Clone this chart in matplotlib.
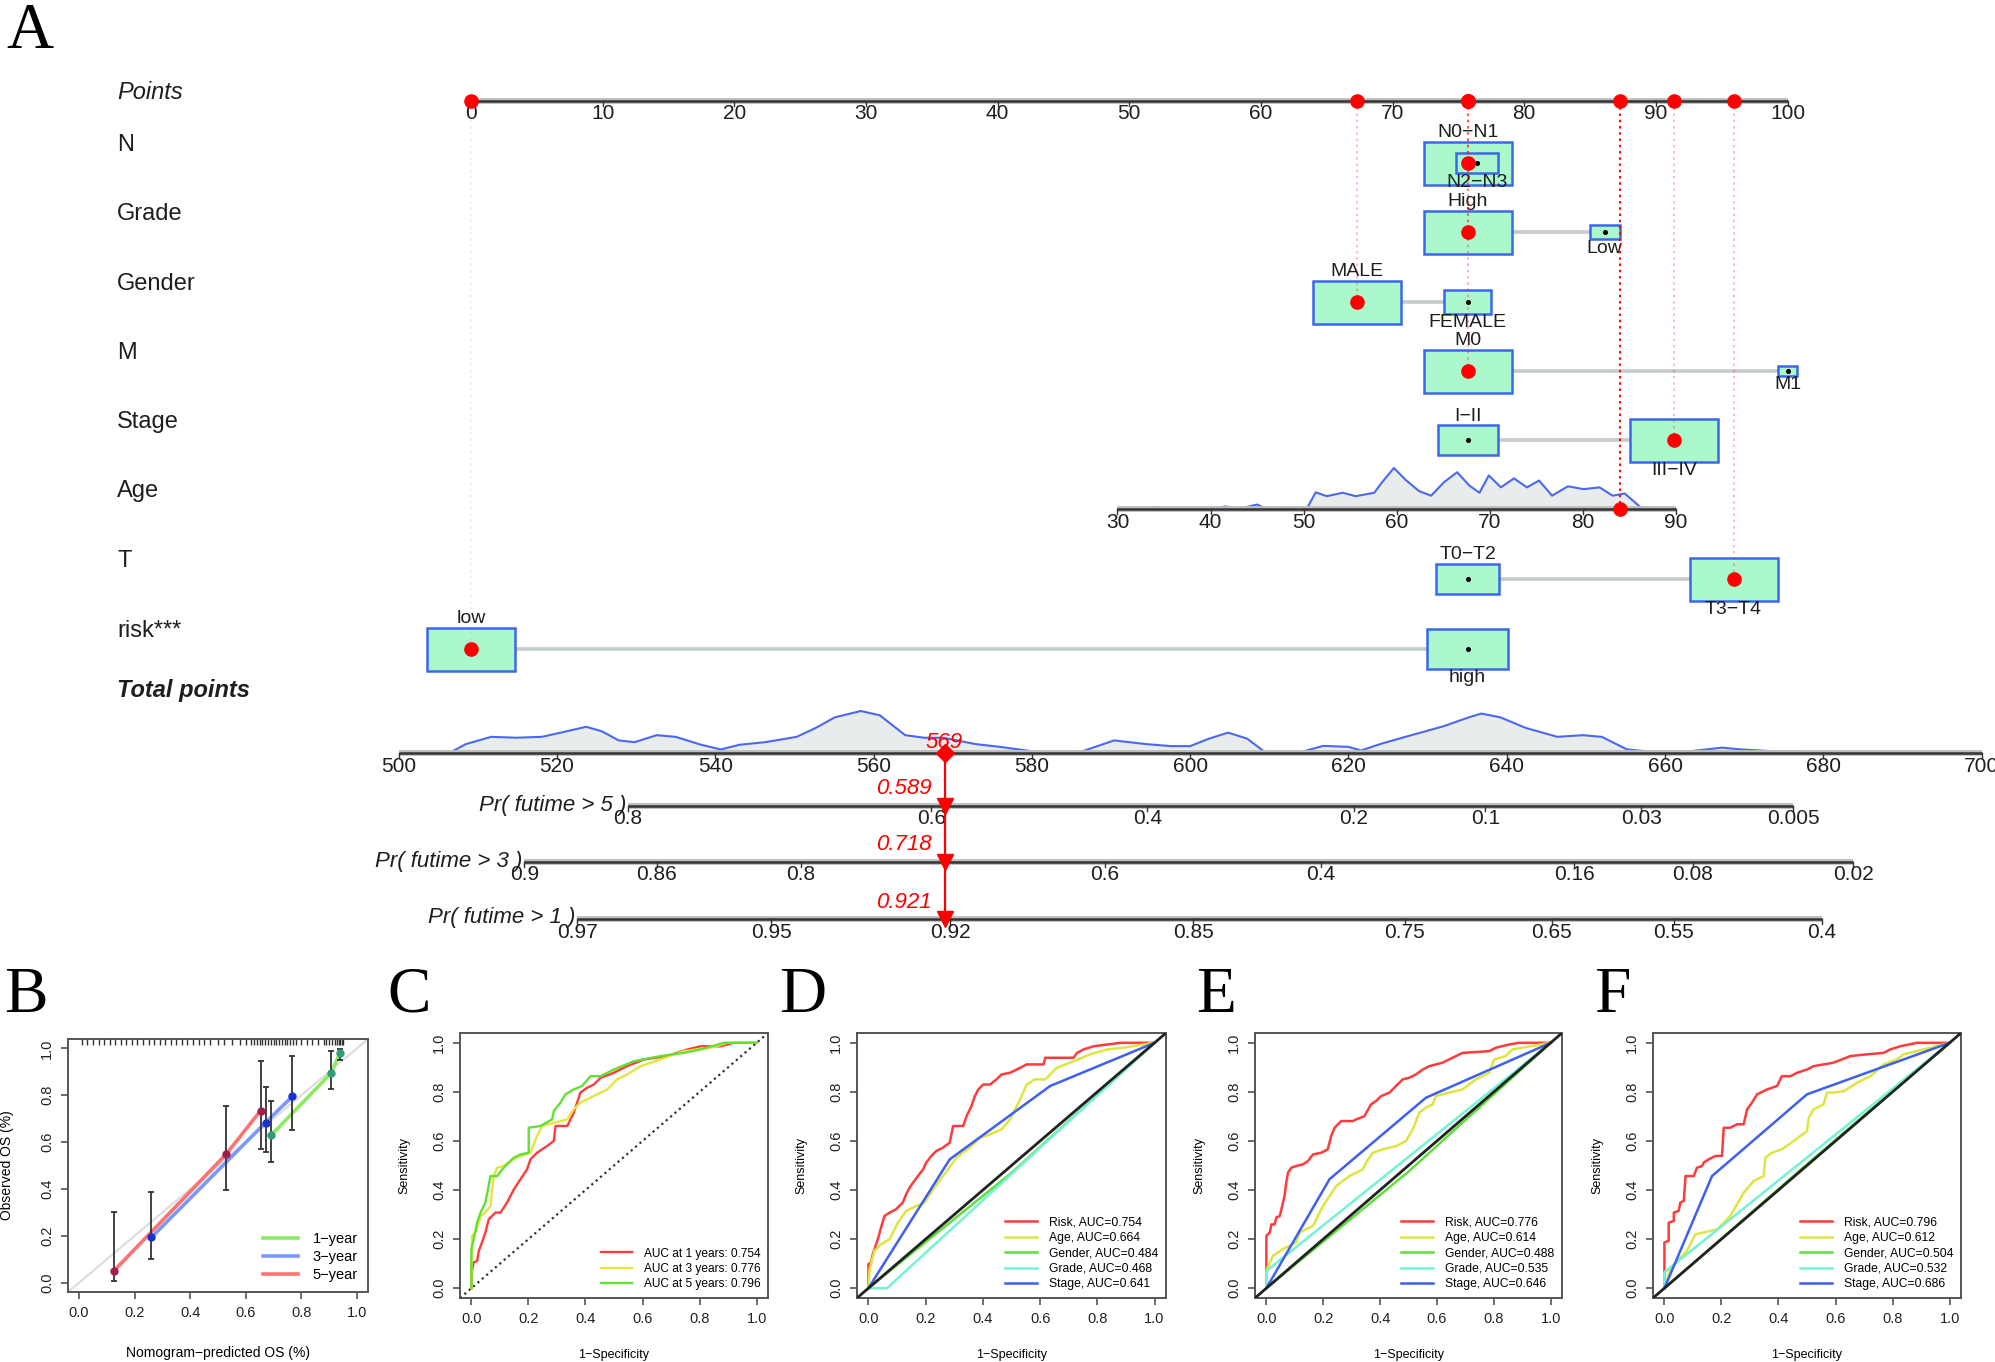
import numpy as np
import matplotlib.pyplot as plt
from matplotlib.patches import Rectangle

plt.rcParams['font.family'] = ['Liberation Sans', 'DejaVu Sans']

W, H = 1995, 1362

# ---------------- A: nomogram values ----------------
N_levels = ['N0−N1', 'N2−N3']
N_points = [75.7, 76.4]
N_freq = [0.816, 0.184]
N_sel = 0

Grade_levels = ['High', 'Low']
Grade_points = [75.7, 86.1]
Grade_freq = [0.895, 0.105]
Grade_sel = 0

Gender_levels = ['MALE', 'FEMALE']
Gender_points = [67.3, 75.7]
Gender_freq = [0.775, 0.225]
Gender_sel = 0

M_levels = ['M0', 'M1']
M_points = [75.7, 100.0]
M_freq = [0.957, 0.043]
M_sel = 0

Stage_levels = ['I−II', 'III−IV']
Stage_points = [75.7, 91.4]
Stage_freq = [0.315, 0.685]
Stage_sel = 1

T_levels = ['T0−T2', 'T3−T4']
T_points = [75.7, 95.9]
T_freq = [0.34, 0.66]
T_sel = 1

risk_levels = ['low', 'high']
risk_points = [0.0, 75.7]
risk_freq = [0.543, 0.457]
risk_sel = 0

age_ticks = [30, 40, 50, 60, 70, 80, 90]
age_points_at_30 = 49.1
age_points_per_year = 0.7069
age_sel = 84
age_grid = [32.4, 34.1, 35.1, 39.9, 41.6, 43.0, 45.0, 46.0, 47.7, 50.4, 51.3, 52.5,
            54.2, 55.6, 57.6, 58.3, 59.7, 61.0, 62.4, 63.7, 65.1, 66.5, 67.8, 68.9,
            69.9, 71.2, 72.6, 74.0, 75.3, 76.7, 78.4, 80.1, 81.8, 83.2, 84.5, 86.2, 87.9]
age_dens = [0, 1.4, 0, 0, 2, 0, 3.5, 0, 1, 1, 13, 10,
            12.7, 10, 12.7, 19.7, 32, 22.5, 14, 10.4, 21, 28.7, 18.3, 12.7,
            26.2, 16.9, 23.9, 16.9, 22.2, 10.4, 17.7, 15.5, 16.9, 10.4, 12.1, 1.4, 0]

points_ticks = [0, 10, 20, 30, 40, 50, 60, 70, 80, 90, 100]
total_ticks = [500, 520, 540, 560, 580, 600, 620, 640, 660, 680, 700]
# total points -> points scale of the nomogram
tp_ref, tp_ref_points, tp_scale = 500, -5.5, 0.6012
tp_grid = [506.4, 508.5, 511.7, 514.9, 518.1, 520.5, 523.7, 525.7, 527.8, 529.8,
           532.6, 535.0, 538.2, 540.7, 543.1, 546.3, 550.3, 552.7, 555.1, 558.4,
           560.8, 564.0, 566.4, 568.8, 572.9, 576.0, 580.0, 582.4, 586.4, 590.4,
           594.4, 597.6, 600.0, 602.4, 604.8, 607.2, 609.6, 613.6, 616.8, 620.0,
           621.6, 624.0, 627.2, 632.0, 635.2, 636.8, 639.2, 642.4, 646.4, 649.6,
           652.0, 655.2, 657.6, 663.2, 667.2, 669.6, 673.6, 676.8, 678.8]
tp_dens = [0, 7, 12.7, 12, 12.7, 16, 20.6, 17, 9.9, 8.5,
           14, 12.7, 6.5, 2.8, 6.5, 8.5, 12.7, 19.7, 28, 33,
           29.6, 14, 12, 12, 7, 4.8, 1.4, 0, 1.4, 9.9,
           7, 5.4, 5.4, 11.3, 16, 11.3, 0, 0, 5.6, 4.8,
           2, 7, 12.7, 21, 28, 31, 28, 19.7, 12.7, 14,
           12.7, 2.8, 1.4, 1.4, 4.2, 2.8, 1.4, 1.4, 0]

pr_names = ['Pr( futime > 5 )', 'Pr( futime > 3 )', 'Pr( futime > 1 )']
pr5_labels = ['0.8', '0.6', '0.4', '0.2', '0.1', '0.03', '0.005']
pr5_tp = [529.0, 567.3, 594.6, 620.7, 637.3, 657.0, 676.2]
pr3_labels = ['0.9', '0.86', '0.8', '0.6', '0.4', '0.16', '0.08', '0.02']
pr3_tp = [515.9, 532.6, 550.8, 589.2, 616.5, 648.5, 663.5, 683.8]
pr1_labels = ['0.97', '0.95', '0.92', '0.85', '0.75', '0.65', '0.55', '0.4']
pr1_tp = [522.6, 547.1, 569.7, 600.4, 627.1, 645.7, 661.1, 679.8]
pred_surv = [0.589, 0.718, 0.921]

# ---------------- B: calibration ----------------
cal_names = ['1−year', '3−year', '5−year']
cal1_x = [0.692, 0.906, 0.940]
cal1_y = [0.630, 0.893, 0.981]
cal1_lo = [0.516, 0.828, 0.950]
cal1_hi = [0.774, 0.989, 0.998]
cal3_x = [0.260, 0.671, 0.768]
cal3_y = [0.193, 0.683, 0.795]
cal3_lo = [0.100, 0.556, 0.652]
cal3_hi = [0.387, 0.834, 0.967]
cal5_x = [0.125, 0.530, 0.653]
cal5_y = [0.050, 0.549, 0.734]
cal5_lo = [0.007, 0.394, 0.569]
cal5_hi = [0.300, 0.755, 0.946]
rug_pred = [0.01, 0.03, 0.05, 0.07, 0.09, 0.11, 0.13, 0.15, 0.17, 0.19, 0.21, 0.23,
            0.25, 0.27, 0.29, 0.31, 0.33, 0.35, 0.37, 0.39, 0.41, 0.43, 0.45, 0.47,
            0.50, 0.52, 0.55, 0.58, 0.60, 0.62, 0.63, 0.64, 0.65, 0.66, 0.67, 0.68,
            0.69, 0.70, 0.71, 0.72, 0.73, 0.74, 0.75, 0.76, 0.77, 0.78, 0.80, 0.82,
            0.84, 0.86, 0.88, 0.89, 0.90, 0.91, 0.92, 0.93, 0.935, 0.94, 0.945, 0.95]

# ---------------- C: time ROC ----------------
c1_fpr = [0, 0.002, 0.008, 0.02, 0.026, 0.037, 0.049, 0.061, 0.084, 0.102, 0.125, 0.149,
          0.172, 0.195, 0.207, 0.23, 0.265, 0.289, 0.295, 0.336, 0.359, 0.382, 0.406,
          0.429, 0.453, 0.499, 0.546, 0.605, 0.687, 0.757, 0.804, 0.874, 0.92, 1.0]
c1_tpr = [0, 0.07, 0.105, 0.111, 0.152, 0.186, 0.227, 0.281, 0.308, 0.308, 0.349, 0.403,
          0.444, 0.484, 0.525, 0.552, 0.579, 0.6, 0.661, 0.661, 0.715, 0.797, 0.817,
          0.83, 0.857, 0.878, 0.905, 0.932, 0.946, 0.973, 0.986, 0.986, 1.0, 1.0]
c3_fpr = [0, 0.002, 0.014, 0.026, 0.032, 0.049, 0.067, 0.078, 0.09, 0.113, 0.137, 0.172,
          0.207, 0.23, 0.248, 0.289, 0.336, 0.359, 0.382, 0.429, 0.476, 0.511, 0.546,
          0.593, 0.663, 0.745, 0.839, 0.897, 1.0]
c3_tpr = [0, 0.213, 0.227, 0.267, 0.294, 0.308, 0.335, 0.457, 0.491, 0.498, 0.518, 0.539,
          0.552, 0.62, 0.661, 0.674, 0.688, 0.729, 0.756, 0.783, 0.81, 0.851, 0.871,
          0.905, 0.932, 0.966, 0.98, 1.0, 1.0]
c5_fpr = [0, 0, 0.008, 0.02, 0.032, 0.049, 0.067, 0.09, 0.108, 0.131, 0.149, 0.172, 0.201,
          0.201, 0.242, 0.283, 0.289, 0.312, 0.33, 0.359, 0.388, 0.418, 0.453, 0.499,
          0.57, 0.663, 0.745, 0.804, 0.885, 1.0]
c5_tpr = [0, 0.159, 0.2, 0.267, 0.308, 0.349, 0.457, 0.457, 0.484, 0.512, 0.532, 0.545, 0.552,
          0.654, 0.661, 0.688, 0.722, 0.756, 0.79, 0.81, 0.824, 0.864, 0.864, 0.891,
          0.925, 0.946, 0.959, 0.973, 1.0, 1.0]
c_labels = ['AUC at 1 years: 0.754', 'AUC at 3 years: 0.776', 'AUC at 5 years: 0.796']

# ---------------- D/E/F: ROC of risk vs clinical factors ----------------
roc_vars = ['Risk', 'Age', 'Gender', 'Grade', 'Stage']
d_auc = [0.754, 0.664, 0.484, 0.468, 0.641]
e_auc = [0.776, 0.614, 0.488, 0.535, 0.646]
f_auc = [0.796, 0.612, 0.504, 0.532, 0.686]

d_risk_fpr = [0, 0, 0.009, 0.015, 0.025, 0.033, 0.044, 0.056, 0.074, 0.097, 0.12, 0.132,
              0.144, 0.156, 0.173, 0.191, 0.202, 0.22, 0.237, 0.261, 0.284, 0.296, 0.331,
              0.343, 0.36, 0.372, 0.384, 0.401, 0.425, 0.448, 0.465, 0.495, 0.518, 0.553,
              0.612, 0.618, 0.717, 0.729, 0.752, 0.787, 0.881, 1.0]
d_risk_tpr = [0, 0.098, 0.105, 0.138, 0.172, 0.2, 0.247, 0.294, 0.308, 0.322, 0.349, 0.383,
              0.41, 0.43, 0.457, 0.484, 0.512, 0.539, 0.559, 0.573, 0.593, 0.661, 0.661,
              0.701, 0.742, 0.783, 0.81, 0.83, 0.83, 0.851, 0.871, 0.878, 0.891, 0.912,
              0.912, 0.939, 0.939, 0.959, 0.973, 0.986, 1.0, 1.0]
d_age_fpr = [0, 0.004, 0.021, 0.044, 0.074, 0.103, 0.132, 0.167, 0.196, 0.226, 0.261, 0.308,
             0.36, 0.389, 0.425, 0.465, 0.495, 0.53, 0.553, 0.582, 0.618, 0.658, 0.717,
             0.775, 0.834, 0.892, 1.0]
d_age_tpr = [0, 0.077, 0.152, 0.179, 0.2, 0.267, 0.315, 0.335, 0.349, 0.403, 0.457, 0.532,
             0.579, 0.613, 0.627, 0.647, 0.688, 0.769, 0.83, 0.851, 0.851, 0.898, 0.925,
             0.953, 0.973, 0.98, 1.0]
d_gender_fpr = [0, 0.5, 1.0]
d_gender_tpr = [0, 0.47, 1.0]
d_grade_fpr = [0, 0.065, 1.0]
d_grade_tpr = [0, 0, 1.0]
d_stage_fpr = [0, 0.284, 0.635, 1.0]
d_stage_tpr = [0, 0.525, 0.824, 1.0]

e_risk_fpr = [0, 0, 0.012, 0.018, 0.029, 0.035, 0.047, 0.053, 0.064, 0.07, 0.076, 0.088,
              0.105, 0.129, 0.146, 0.164, 0.193, 0.216, 0.228, 0.24, 0.263, 0.304, 0.316,
              0.345, 0.368, 0.386, 0.404, 0.433, 0.456, 0.48, 0.503, 0.526, 0.55, 0.573,
              0.62, 0.667, 0.69, 0.784, 0.807, 0.854, 0.889, 1.0]
e_risk_tpr = [0, 0.213, 0.227, 0.26, 0.26, 0.288, 0.294, 0.322, 0.376, 0.43, 0.471, 0.491,
              0.498, 0.505, 0.518, 0.545, 0.552, 0.566, 0.62, 0.654, 0.681, 0.681, 0.688,
              0.701, 0.749, 0.763, 0.783, 0.797, 0.824, 0.851, 0.858, 0.871, 0.891, 0.905,
              0.919, 0.946, 0.959, 0.966, 0.98, 0.993, 1.0, 1.0]
e_age_fpr = [0, 0.002, 0.023, 0.058, 0.105, 0.117, 0.164, 0.199, 0.246, 0.292, 0.339, 0.351,
             0.374, 0.409, 0.456, 0.491, 0.515, 0.538, 0.561, 0.585, 0.596, 0.643, 0.69,
             0.737, 0.784, 0.801, 0.842, 0.865, 0.901, 1.0]
e_age_tpr = [0, 0.077, 0.132, 0.159, 0.186, 0.227, 0.254, 0.335, 0.417, 0.457, 0.484, 0.512,
             0.552, 0.566, 0.579, 0.6, 0.647, 0.715, 0.736, 0.749, 0.783, 0.797, 0.81,
             0.851, 0.878, 0.932, 0.946, 0.973, 0.98, 1.0]
e_gender_fpr = [0, 0.5, 1.0]
e_gender_tpr = [0, 0.475, 1.0]
e_grade_fpr = [0, 0, 1.0]
e_grade_tpr = [0, 0.07, 1.0]
e_stage_fpr = [0, 0.222, 0.561, 1.0]
e_stage_tpr = [0, 0.444, 0.776, 1.0]

f_risk_fpr = [0, 0, 0.015, 0.015, 0.033, 0.033, 0.05, 0.056, 0.068, 0.074, 0.103, 0.114,
              0.132, 0.138, 0.155, 0.179, 0.202, 0.208, 0.231, 0.255, 0.278, 0.29, 0.307,
              0.325, 0.36, 0.395, 0.412, 0.442, 0.465, 0.5, 0.523, 0.593, 0.652, 0.71,
              0.769, 0.792, 0.827, 0.886, 1.0]
f_risk_tpr = [0, 0.186, 0.193, 0.267, 0.274, 0.308, 0.315, 0.349, 0.356, 0.457, 0.457, 0.491,
              0.498, 0.512, 0.525, 0.539, 0.539, 0.654, 0.654, 0.668, 0.668, 0.729, 0.756,
              0.79, 0.81, 0.824, 0.864, 0.864, 0.878, 0.891, 0.905, 0.919, 0.946, 0.953,
              0.959, 0.973, 0.986, 1.0, 1.0]
f_age_fpr = [0, 0.021, 0.044, 0.079, 0.109, 0.144, 0.185, 0.231, 0.278, 0.313, 0.348, 0.354,
             0.377, 0.412, 0.453, 0.5, 0.506, 0.523, 0.558, 0.57, 0.593, 0.629, 0.675,
             0.722, 0.769, 0.815, 0.839, 0.909, 1.0]
f_age_tpr = [0, 0.077, 0.111, 0.152, 0.22, 0.229, 0.24, 0.294, 0.389, 0.437, 0.457, 0.532,
             0.552, 0.566, 0.6, 0.64, 0.695, 0.729, 0.749, 0.797, 0.797, 0.803, 0.837,
             0.864, 0.912, 0.932, 0.953, 0.973, 1.0]
f_gender_fpr = [0, 0.5, 1.0]
f_gender_tpr = [0, 0.505, 1.0]
f_grade_fpr = [0, 0, 1.0]
f_grade_tpr = [0, 0.065, 1.0]
f_stage_fpr = [0, 0.167, 0.5, 1.0]
f_stage_tpr = [0, 0.457, 0.79, 1.0]

roc_colors = ['#FF3B3B', '#DDE640', '#5EE03C', '#74F2D4', '#3F5FF2']
c_colors = ['#FF3B3B', '#E4E640', '#62E034']
cal_colors = ['#8EEA62', '#7A98FF', '#FF7272']
cal_marker_colors = ['#2E9E7A', '#1A30D0', '#A01E4A']

# ================= figure =================
fig = plt.figure(figsize=(W / 100, H / 100), dpi=100)

axA = fig.add_axes([0, 0, 1, 1])
PX_PER_PT = 13.166
P0_PX = 471.0
axA.set_xlim(-P0_PX / PX_PER_PT, (W - P0_PX) / PX_PER_PT)
axA.set_ylim(H, 0)
axA.axis('off')


def px2pt(x):
    return (x - P0_PX) / PX_PER_PT


def tp2pt(tp):
    return tp_ref_points + tp_scale * (np.asarray(tp, dtype=float) - tp_ref)


def age2pt(a):
    return age_points_at_30 + age_points_per_year * (np.asarray(a, dtype=float) - 30)


def scale_axis(y, xs, labels, fs=15):
    axA.plot([xs[0], xs[-1]], [y, y], color='#bdbdbd', lw=4.2, solid_capstyle='butt', zorder=2)
    axA.plot([xs[0], xs[-1]], [y, y], color='#333333', lw=1.8, solid_capstyle='butt', zorder=2)
    for x, lab in zip(xs, labels):
        axA.plot([x, x], [y, y + 5], color='#333333', lw=1, zorder=2)
        axA.text(x, y + 13, lab, ha='center', va='center', fontsize=fs, color='#1e1e1e')


LABEL_X = px2pt(117)
points_y = 100.5
row_y = {'N': 163, 'Grade': 232, 'Gender': 302, 'M': 371, 'Stage': 440,
         'Age': 509, 'T': 579, 'risk***': 649}
total_y = 753
pr_y = [806, 862, 919]
BOX_W, BOX_H = 88.0, 43.0

# points axis
scale_axis(points_y, points_ticks, [str(t) for t in points_ticks])
axA.text(LABEL_X, points_y - 8, 'Points', style='italic', fontsize=17, va='center', color='#1e1e1e')

selected_points = []


def guide(x, y, alpha):
    axA.plot([x, x], [points_y, y], color='red', ls=(0, (1.2, 1.8)), lw=1.5, alpha=alpha, zorder=4.5)
    axA.plot(x, points_y, 'o', color='red', ms=9.5, zorder=6)


def factor_row(name, levels, pts, freq, sel, alpha=0.3):
    y = row_y[name]
    axA.text(LABEL_X, y - 18, name, fontsize=17, va='center', color='#1e1e1e')
    axA.plot([min(pts), max(pts)], [y, y], color='#c4cccc', lw=2.6, zorder=2)
    fmax = max(freq)
    for i in np.argsort(freq)[::-1]:
        s = np.sqrt(freq[i] / fmax)
        w, h = BOX_W * s / PX_PER_PT, BOX_H * s
        axA.add_patch(Rectangle((pts[i] - w / 2, y - h / 2), w, h, fc='#AAF8CC', ec='#3D66EE',
                                lw=1.8, zorder=3))
        axA.plot(pts[i], y, 'o', color='black', ms=2.6, zorder=4)
    for i, lab in enumerate(levels):
        h = BOX_H * np.sqrt(freq[i] / fmax)
        ly = y - h / 2 - 9 if i == 0 else y + h / 2 + 9
        axA.text(pts[i], ly, lab, ha='center', va='center', fontsize=14, color='#1e1e1e')
    guide(pts[sel], y, alpha)
    axA.plot(pts[sel], y, 'o', color='red', ms=9.5, zorder=6)
    selected_points.append(pts[sel])


factor_row('N', N_levels, N_points, N_freq, N_sel)
factor_row('Grade', Grade_levels, Grade_points, Grade_freq, Grade_sel)
factor_row('Gender', Gender_levels, Gender_points, Gender_freq, Gender_sel, alpha=0.25)
factor_row('M', M_levels, M_points, M_freq, M_sel)
factor_row('Stage', Stage_levels, Stage_points, Stage_freq, Stage_sel, alpha=0.25)

# Age (continuous) with density
ya = row_y['Age']
axA.text(LABEL_X, ya - 18, 'Age', fontsize=17, va='center', color='#1e1e1e')
ax_pts = age2pt(age_grid)
dh = np.array(age_dens) / max(age_dens) * 41
axA.fill_between(ax_pts, ya, ya - dh, color='#e8ecec', zorder=1.5, lw=0)
axA.plot(ax_pts, ya - dh, color='#4a68f0', lw=1.5, zorder=1.6)
scale_axis(ya, age2pt(age_ticks), [str(a) for a in age_ticks])
age_p = float(age2pt(age_sel))
guide(age_p, ya, 0.95)
axA.plot(age_p, ya, 'o', color='red', ms=9.5, zorder=6)
selected_points.append(age_p)

factor_row('T', T_levels, T_points, T_freq, T_sel, alpha=0.25)
factor_row('risk***', risk_levels, risk_points, risk_freq, risk_sel, alpha=0.08)

# total points
axA.text(LABEL_X, total_y - 62, 'Total points', style='italic', weight='bold', fontsize=17,
         va='center', color='#1e1e1e')
tp_pts = tp2pt(tp_grid)
th = np.array(tp_dens) / max(tp_dens) * 42
axA.fill_between(tp_pts, total_y, total_y - th, color='#e8ecec', zorder=1.5, lw=0)
axA.plot(tp_pts, total_y - th, color='#4a68f0', lw=1.5, zorder=1.6)
scale_axis(total_y, tp2pt(total_ticks), [str(t) for t in total_ticks])

pr_ticks = [(pr5_labels, pr5_tp), (pr3_labels, pr3_tp), (pr1_labels, pr1_tp)]
for (labs, tps), y, nm in zip(pr_ticks, pr_y, pr_names):
    xs = tp2pt(tps)
    scale_axis(y, xs, labs)
    axA.text(xs[0] - 2 / PX_PER_PT, y - 1, nm, ha='right', va='center', style='italic',
             fontsize=16, color='#1e1e1e')

total_sel = sum(selected_points)
xt = float(tp2pt(total_sel))
axA.plot([xt, xt], [total_y, pr_y[-1]], color='red', lw=1.6, zorder=5)
axA.plot(xt, total_y, 'D', color='red', ms=9, zorder=6)
axA.text(xt, total_y - 11, f'{total_sel:.0f}', color='red', style='italic', fontsize=16,
         ha='center', va='center', zorder=7)
for y, p in zip(pr_y, pred_surv):
    axA.plot(xt, y, 'v', color='red', ms=12, zorder=6)
    axA.text(xt - 13 / PX_PER_PT, y - 17, f'{p:.3f}', color='red', style='italic', fontsize=16,
             ha='right', va='center', zorder=7)


# ================= bottom panels =================
def r_axes(left, right, top, bottom):
    ax = fig.add_axes([left / W, 1 - bottom / H, (right - left) / W, (bottom - top) / H])
    ax.set_xlim(-0.04, 1.04)
    ax.set_ylim(-0.04, 1.04)
    ticks = [0, 0.2, 0.4, 0.6, 0.8, 1.0]
    tl = ['0.0', '0.2', '0.4', '0.6', '0.8', '1.0']
    ax.set_xticks(ticks)
    ax.set_xticklabels(tl)
    ax.set_yticks(ticks)
    ax.set_yticklabels(tl, rotation=90, va='center')
    ax.tick_params(length=5, width=1.1, color='#444444', labelsize=10.5, labelcolor='#222222')
    ax.tick_params(axis='x', pad=5)
    ax.tick_params(axis='y', pad=5)
    for s in ax.spines.values():
        s.set_linewidth(1.4)
        s.set_color('#555555')
    return ax


# B
axB = r_axes(68, 368, 1039, 1292)
axB.axline((0, 0), (1, 1), color='#dcdcdc', lw=1.5, zorder=1)
axB.vlines(rug_pred, 1.015, 1.04, color='#333333', lw=1)
cal_sets = [(cal1_x, cal1_y, cal1_lo, cal1_hi), (cal3_x, cal3_y, cal3_lo, cal3_hi),
            (cal5_x, cal5_y, cal5_lo, cal5_hi)]
for (x, y, lo, hi), c, mc, nm in zip(cal_sets, cal_colors, cal_marker_colors, cal_names):
    axB.plot(x, y, color=c, lw=2.6, label=nm, zorder=2)
    yerr = [np.array(y) - np.array(lo), np.array(hi) - np.array(y)]
    axB.errorbar(x, y, yerr=yerr, fmt='none', ecolor='#333333', elinewidth=1.3, capsize=2.5,
                 capthick=1.3, zorder=3)
    axB.plot(x, y, 'o', color=mc, ms=5, zorder=4)
axB.legend(loc='lower right', frameon=False, fontsize=10.5, handlelength=2.4,
           handletextpad=1.0, labelspacing=0.25, borderaxespad=0.3)
axB.set_xlabel('Nomogram−predicted OS (%)', fontsize=10)
axB.set_ylabel('Observed OS (%)', fontsize=10)
axB.xaxis.set_label_coords(0.5, -0.215)
axB.yaxis.set_label_coords(-0.18, 0.5)

# C
axC = r_axes(460, 768, 1033, 1298)
axC.axline((0, 0), (1, 1), color='#333333', lw=1.6, ls=(0, (1, 1.6)), zorder=1)
for fpr, tpr, c, lab in zip([c1_fpr, c3_fpr, c5_fpr], [c1_tpr, c3_tpr, c5_tpr], c_colors, c_labels):
    axC.plot(fpr, tpr, color=c, lw=1.7, label=lab)
axC.legend(loc='lower right', frameon=False, fontsize=8.6, handlelength=2.6,
           handletextpad=1.0, labelspacing=0.28, borderaxespad=0.25)


def roc_panel(left, right, curves, aucs):
    ax = r_axes(left, right, 1033, 1298)
    for (fpr, tpr), c, v, a in zip(curves, roc_colors, roc_vars, aucs):
        ax.plot(fpr, tpr, color=c, lw=1.8, label=f'{v}, AUC={a:.3f}')
    ax.axline((0, 0), (1, 1), color='#222222', lw=2.0, zorder=3)
    ax.legend(loc='lower right', frameon=False, fontsize=8.7, handlelength=2.6,
              handletextpad=1.0, labelspacing=0.28, borderaxespad=0.25)
    return ax


axD = roc_panel(857, 1166, [(d_risk_fpr, d_risk_tpr), (d_age_fpr, d_age_tpr),
                            (d_gender_fpr, d_gender_tpr), (d_grade_fpr, d_grade_tpr),
                            (d_stage_fpr, d_stage_tpr)], d_auc)
axE = roc_panel(1255, 1562, [(e_risk_fpr, e_risk_tpr), (e_age_fpr, e_age_tpr),
                             (e_gender_fpr, e_gender_tpr), (e_grade_fpr, e_grade_tpr),
                             (e_stage_fpr, e_stage_tpr)], e_auc)
axF = roc_panel(1653, 1961, [(f_risk_fpr, f_risk_tpr), (f_age_fpr, f_age_tpr),
                             (f_gender_fpr, f_gender_tpr), (f_grade_fpr, f_grade_tpr),
                             (f_stage_fpr, f_stage_tpr)], f_auc)

for ax in [axC, axD, axE, axF]:
    ax.set_xlabel('1−Specificity', fontsize=9)
    ax.set_ylabel('Sensitivity', fontsize=9)
    ax.xaxis.set_label_coords(0.5, -0.192)
    ax.yaxis.set_label_coords(-0.16, 0.5)

# panel letters
for lab, x, y in [('A', 6, 2), ('B', 4, 966), ('C', 387, 966), ('D', 779, 966),
                  ('E', 1196, 966), ('F', 1594, 966)]:
    fig.text(x / W, 1 - y / H, lab, family='Liberation Serif', fontsize=47, va='top', ha='left')

fig.savefig('out.png', dpi=100)
